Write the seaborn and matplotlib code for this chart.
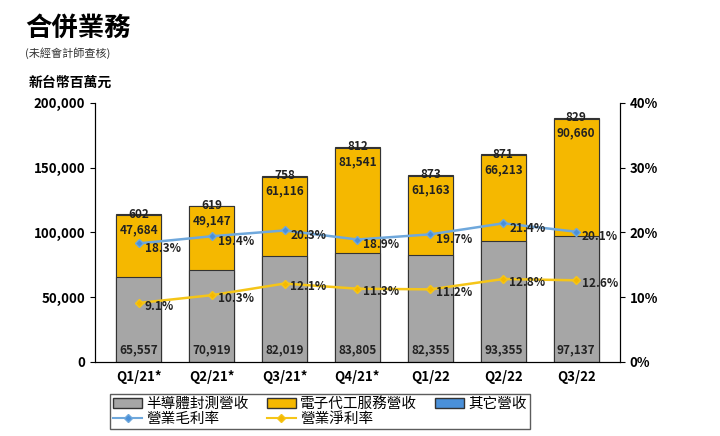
import numpy as np
import pandas as pd
import matplotlib.pyplot as plt
import seaborn as sns
from matplotlib.patches import Patch
from matplotlib.lines import Line2D

plt.rcParams["font.family"] = ["Noto Sans CJK TC", "DejaVu Sans"]

# Data
quarters = ["Q1/21*", "Q2/21*", "Q3/21*", "Q4/21*", "Q1/22", "Q2/22", "Q3/22"]
semi = [65557, 70919, 82019, 83805, 82355, 93355, 97137]
ems = [47684, 49147, 61116, 81541, 61163, 66213, 90660]
other = [602, 619, 758, 812, 873, 871, 829]
gross_margin = [18.3, 19.4, 20.3, 18.9, 19.7, 21.4, 20.1]
net_margin = [9.1, 10.3, 12.1, 11.3, 11.2, 12.8, 12.6]

df = pd.DataFrame({"Quarter": quarters, "semi": semi, "ems": ems, "other": other})
df["semi_ems"] = df["semi"] + df["ems"]
df["total"] = df["semi_ems"] + df["other"]

fig = plt.figure(figsize=(7.2, 4.36), dpi=100)
ax = fig.add_axes([0.132, 0.170, 0.729, 0.594])

# stacked bars: draw totals first, then overlay lower segments
for col, c in [("total", "#4a90d9"), ("semi_ems", "#f5b800"), ("semi", "#a6a6a6")]:
    sns.barplot(data=df, x="Quarter", y=col, color=c, width=0.62,
                edgecolor="#333333", linewidth=0.8, saturation=1, ax=ax)

x = np.arange(len(quarters))
lab = dict(ha="center", va="center", fontsize=8.5, fontweight="bold", color="#222222")
for i in x:
    ax.text(i, 9000, f"{semi[i]:,}", **lab)
    ax.text(i, df["semi_ems"][i] - 11000, f"{ems[i]:,}", **lab)
    ax.text(i, df["total"][i], f"{other[i]:,}", **lab)

ax.set_ylim(0, 200000)
ax.set_yticks(range(0, 200001, 50000))
ax.set_yticklabels([f"{v:,}" for v in range(0, 200001, 50000)], fontsize=9.5, fontweight="bold")
ax.set_xticks(x)
ax.set_xticklabels(quarters, fontsize=9.5, fontweight="bold")
ax.tick_params(axis="x", length=0, pad=6)
ax.set_xlabel("")
ax.set_ylabel("")
ax.set_xlim(-0.6, 6.6)
ax.spines["top"].set_visible(False)

ax2 = ax.twinx()
ax2.plot(x, gross_margin, color="#6fa8dc", marker="D", markersize=4,
         markerfacecolor="#4a90d9", linewidth=1.8)
ax2.plot(x, net_margin, color="#f5c518", marker="D", markersize=4,
         markerfacecolor="#f5b800", linewidth=1.8)
for i in x:
    ax2.text(i + 0.08, gross_margin[i] - 0.8, f"{gross_margin[i]}%", ha="left", va="center",
             fontsize=8.5, fontweight="bold", color="#222222")
    ax2.text(i + 0.08, net_margin[i] - 0.5, f"{net_margin[i]}%", ha="left", va="center",
             fontsize=8.5, fontweight="bold", color="#222222")
ax2.set_ylim(0, 40)
ax2.set_yticks(range(0, 41, 10))
ax2.set_yticklabels([f"{v}%" for v in range(0, 41, 10)], fontsize=9.5, fontweight="bold")
ax2.spines["top"].set_visible(False)

fig.text(0.035, 0.935, "合併業務", fontsize=19, fontweight="bold", va="center")
fig.text(0.035, 0.878, "(未經會計師查核)", fontsize=8, color="#333333", va="center")
fig.text(0.04, 0.81, "新台幣百萬元", fontsize=10, fontweight="bold", va="center")

h_semi = Patch(facecolor="#a6a6a6", edgecolor="#333333", label="半導體封測營收")
h_ems = Patch(facecolor="#f5b800", edgecolor="#333333", label="電子代工服務營收")
h_other = Patch(facecolor="#4a90d9", edgecolor="#333333", label="其它營收")
h_gm = Line2D([], [], color="#6fa8dc", marker="D", markersize=4, markerfacecolor="#4a90d9", label="營業毛利率")
h_nm = Line2D([], [], color="#f5c518", marker="D", markersize=4, markerfacecolor="#f5b800", label="營業淨利率")
fig.legend(handles=[h_semi, h_gm, h_ems, h_nm, h_other], ncol=3,
           loc="lower left", bbox_to_anchor=(0.143, 0.0), fontsize=10.5,
           frameon=True, fancybox=False, edgecolor="#333333",
           handlelength=2.0, handletextpad=0.3, columnspacing=1.2, labelspacing=0.05,
           borderpad=0.2)

fig.savefig("out.png", dpi=100)
